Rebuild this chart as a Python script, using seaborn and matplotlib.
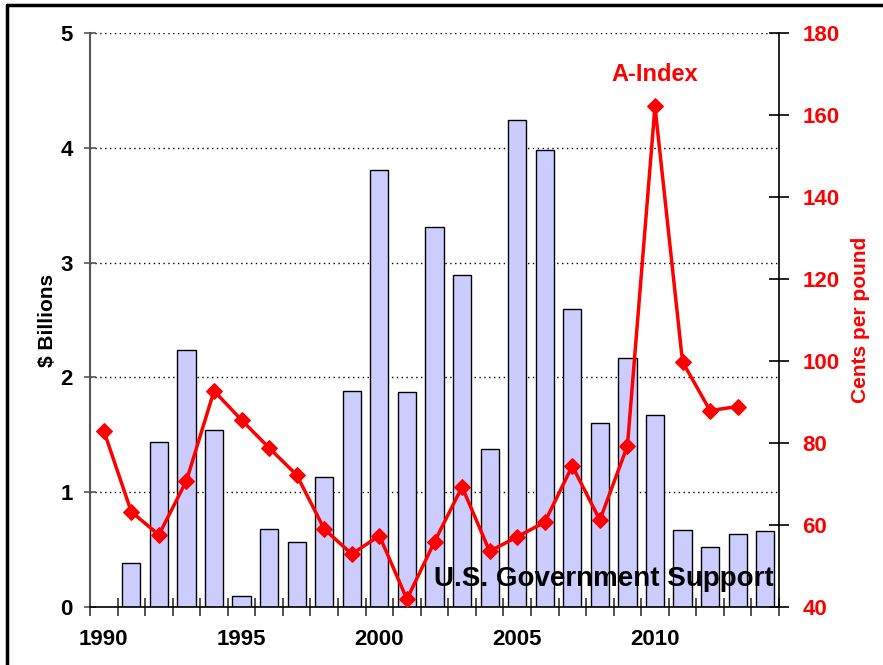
import numpy as np
import pandas as pd
import matplotlib
matplotlib.use("Agg")
import matplotlib.pyplot as plt
from matplotlib.lines import Line2D
import seaborn as sns

# data
years = list(range(1990, 2015))
support = [np.nan, 0.38, 1.44, 2.24, 1.54, 0.10, 0.68, 0.57, 1.13, 1.88,
           3.81, 1.87, 3.31, 2.89, 1.38, 4.24, 3.98, 2.60, 1.60, 2.17,
           1.67, 0.67, 0.52, 0.64, 0.66]
a_index = [83.0, 63.2, 57.6, 70.8, 92.7, 85.6, 78.8, 72.2, 59.0, 52.9,
           57.4, 41.9, 55.9, 69.3, 53.6, 57.1, 60.7, 74.4, 61.2, 79.3,
           162.1, 99.8, 87.9, 88.9, np.nan]
label_years = [1990, 1995, 2000, 2005, 2010]

df = pd.DataFrame({"year": years, "support": support, "a_index": a_index})

sns.set_theme(style="white")
plt.rcParams["font.family"] = ["Liberation Sans", "DejaVu Sans"]
plt.rcParams["font.weight"] = "bold"
plt.rcParams["text.color"] = "black"
plt.rcParams["axes.labelcolor"] = "black"
plt.rcParams["xtick.color"] = "black"
plt.rcParams["ytick.color"] = "black"

fig = plt.figure(figsize=(8.83, 6.65), dpi=100)
ax = fig.add_axes([90 / 883, 58 / 665, 689 / 883, 574 / 665])

sns.barplot(data=df.dropna(subset=["support"]), x="year", y="support",
            native_scale=True, width=0.66, color="#CCCCFF", saturation=1,
            edgecolor="black", linewidth=1, ax=ax, zorder=2)

ax.set_xlim(1989.5, 2014.5)
ax.set_ylim(0, 5)
ax.set_yticks([0, 1, 2, 3, 4, 5])
ax.set_axisbelow(True)
ax.yaxis.grid(True, color="black", linestyle=(0, (1, 2.5)), linewidth=1)
ax.xaxis.grid(False)

# tick marks at the year boundaries, labels at the year centres
ax.set_xticks(np.arange(1989.5, 2015, 1))
ax.set_xticklabels([])
ax.set_xticks(label_years, minor=True)
ax.set_xticklabels([str(y) for y in label_years], minor=True)
ax.tick_params(axis="x", which="major", direction="inout", length=13,
               width=1.2, color="#333333", bottom=True)
ax.tick_params(axis="x", which="minor", length=0, pad=16, labelsize=16,
               labelcolor="black")
ax.tick_params(axis="y", direction="inout", length=9, width=1.2,
               color="#555555", left=True, labelsize=16, pad=8,
               labelcolor="black")
ax.set_xlabel("")
ax.set_ylabel("$ Billions", fontsize=15, fontweight="bold", color="black",
              labelpad=2)

for s in ["top", "right"]:
    ax.spines[s].set_visible(False)
ax.spines["left"].set_color("#555555")
ax.spines["left"].set_linewidth(1.5)
ax.spines["bottom"].set_color("black")
ax.spines["bottom"].set_linewidth(1.2)

ax.text(2014.3, 0.24, "U.S. Government Support", ha="right", va="center",
        fontsize=20, fontweight="bold", color="black", zorder=5)

ax2 = ax.twinx()
sns.lineplot(data=df, x="year", y="a_index", color="red", marker="D",
             markersize=8, markeredgecolor="red", linewidth=2.5, ax=ax2,
             zorder=4)
ax2.set_ylim(40, 180)
ax2.set_yticks(range(40, 181, 20))
ax2.set_xlim(1989.5, 2014.5)
ax2.tick_params(axis="y", direction="inout", length=14, width=1.2,
                color="black", right=True, labelsize=16, labelcolor="red",
                pad=10)
ax2.set_ylabel("Cents per pound", fontsize=15, fontweight="bold", color="red",
               labelpad=8)
ax2.set_xlabel("")
for s in ["top", "left", "bottom"]:
    ax2.spines[s].set_visible(False)
ax2.spines["right"].set_color("black")
ax2.spines["right"].set_linewidth(1.2)

ax2.text(2010, 170, "A-Index", ha="center", va="center", fontsize=17,
         fontweight="bold", color="red")

# frame around the slide
fig.add_artist(Line2D([7 / 883, 7 / 883], [0, 1 - 5 / 665], color="black",
                      linewidth=2.5, transform=fig.transFigure))
fig.add_artist(Line2D([7 / 883, 1], [1 - 5 / 665, 1 - 5 / 665], color="black",
                      linewidth=2.5, transform=fig.transFigure))

fig.savefig("out.png", dpi=100)
